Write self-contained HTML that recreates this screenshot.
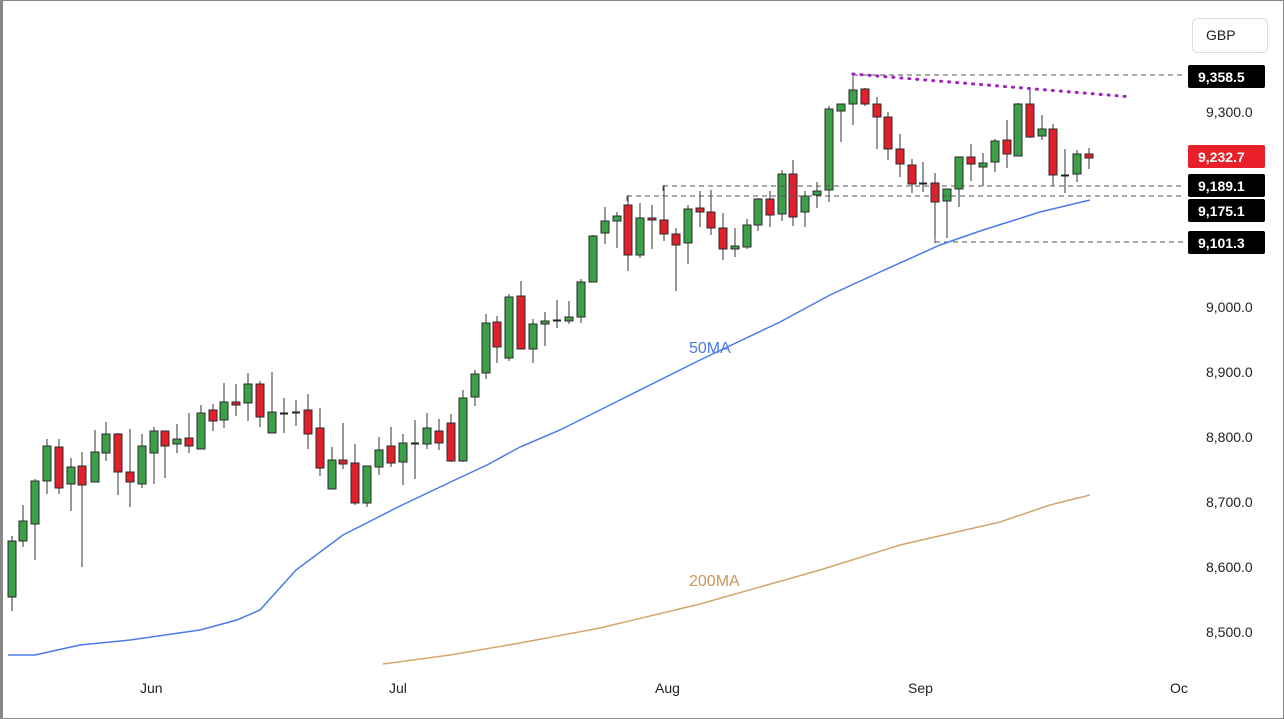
<!DOCTYPE html>
<html><head><meta charset="utf-8"><style>
body{margin:0;background:#fff;}
svg{display:block;font-family:"Liberation Sans",sans-serif;}
</style></head><body>
<svg id="s" width="1284" height="719" viewBox="0 0 1284 719" xmlns="http://www.w3.org/2000/svg">
<rect x="0.5" y="0.5" width="1283" height="718" fill="#fff" stroke="#888"/>
<rect x="0" y="0" width="3" height="719" fill="#888"/>
<g id="c"></g>
<g stroke="#555" stroke-dasharray="5,4" stroke-width="1" fill="none">
<path d="M853 75H1185M853 75V80"/>
<path d="M663 186H1185M663 186V196"/>
<path d="M627 196H1185M627 196V204"/>
<path d="M935 242H1185M935 242V236"/>
</g>
<line x1="853" y1="74" x2="1132" y2="97" stroke="#a020c0" stroke-width="3" stroke-dasharray="1,7" stroke-linecap="round"/>
<polyline fill="none" stroke="#4a7ae8" stroke-width="1.5" points="8,655 35,655 80,645 130,640 200,630 237,620 260,610 296,570 343,535 400,506 457,479 487,465 520,447 560,430 620,400 700,360 780,322 830,295 880,272 940,245 980,231 1040,212 1090,200"/>
<polyline fill="none" stroke="#d2a66e" stroke-width="1.5" points="383,664 450,655 520,643 600,628 700,604 820,570 900,545 1000,522 1050,505 1090,495"/>
<text x="689" y="353" fill="#4a7ae8" font-size="16">50MA</text>
<text x="689" y="586" fill="#c9975a" font-size="16">200MA</text>
<g font-size="14" fill="#222">
<text x="1206" y="117">9,300.0</text>
<text x="1206" y="312">9,000.0</text>
<text x="1206" y="377">8,900.0</text>
<text x="1206" y="442">8,800.0</text>
<text x="1206" y="507">8,700.0</text>
<text x="1206" y="572">8,600.0</text>
<text x="1206" y="637">8,500.0</text>
</g>
<rect x="1192.5" y="18.5" width="75" height="34" rx="5" fill="#fff" stroke="#ddd"/>
<text x="1206" y="40" font-size="14" fill="#222">GBP</text>
<g font-size="14" font-weight="bold" fill="#fff">
<rect x="1188" y="65" width="77" height="23" rx="2" fill="#000"/><text x="1198" y="82">9,358.5</text>
<rect x="1188" y="145" width="77" height="23" rx="2" fill="#e8202a"/><text x="1198" y="162">9,232.7</text>
<rect x="1188" y="174" width="77" height="23" rx="2" fill="#000"/><text x="1198" y="191">9,189.1</text>
<rect x="1188" y="199" width="77" height="23" rx="2" fill="#000"/><text x="1198" y="216">9,175.1</text>
<rect x="1188" y="231" width="77" height="23" rx="2" fill="#000"/><text x="1198" y="248">9,101.3</text>
</g>
<g font-size="14" fill="#222">
<text x="140" y="693">Jun</text>
<text x="389" y="693">Jul</text>
<text x="655" y="693">Aug</text>
<text x="908" y="693">Sep</text>
<text x="1170" y="693">Oc</text>
</g>
</svg>
<script>
var d=[[12,597,541,536,611],[23,541,521,505,547],[35,524,481,479,560],[47,481,446,439,494],[59,447,488,439,494],[71,484,467,458,511],[82,466,485,452,567],[95,482,452,430,482],[106,453,434,422,461],[118,434,472,433,495],[130,472,482,429,507],[142,484,446,434,488],[154,453,431,427,484],[165,431,446,431,478],[177,444,439,424,453],[189,438,446,413,453],[201,449,413,405,449],[213,410,421,404,431],[224,420,402,383,428],[236,402,405,384,416],[248,403,384,373,421],[260,384,417,381,427],[272,433,412,372,433],[284,413,413,398,433],[296,412,412,400,426],[308,410,434,394,449],[320,428,468,408,476],[332,489,460,447,489],[343,460,464,423,469],[355,463,503,444,505],[367,503,466,466,507],[379,467,450,437,475],[391,446,463,427,467],[403,462,443,434,485],[415,443,443,420,479],[427,444,428,413,449],[439,431,443,419,450],[451,423,461,414,462],[463,461,398,390,462],[475,397,374,370,406],[486,373,323,314,379],[497,322,347,316,363],[509,358,297,294,361],[521,296,349,281,349],[533,349,324,319,363],[545,324,321,312,346],[557,320,320,300,328],[569,321,317,301,324],[581,317,282,279,323],[593,282,236,235,282],[605,233,221,207,244],[617,221,216,212,248],[628,205,255,195,271],[640,255,218,203,258],[652,218,220,205,249],[664,220,234,185,241],[676,234,245,228,291],[688,243,209,205,264],[700,208,212,191,227],[711,212,228,190,235],[723,228,249,213,260],[735,249,246,228,257],[747,247,225,219,249],[758,225,199,198,231],[770,199,215,191,227],[782,214,174,170,221],[793,174,217,160,226],[805,212,196,191,227],[817,195,191,182,208],[829,190,109,106,202],[841,111,104,104,142],[853,104,90,73,125],[865,89,104,88,106],[877,104,117,97,149],[888,117,149,112,160],[900,149,164,134,177],[912,165,184,159,193],[923,183,183,162,192],[935,183,202,173,243],[947,201,189,189,238],[959,189,157,157,207],[971,157,164,144,181],[983,167,163,153,186],[995,162,141,139,172],[1007,140,154,120,168],[1018,156,104,103,156],[1030,104,137,88,138],[1042,136,129,115,140],[1053,129,175,124,186],[1065,175,175,149,193],[1077,174,154,150,182],[1089,154,158,148,169]];
var h='';d.forEach(function(c){var x=c[0],o=c[1],cl=c[2];var up=cl<o;var t=Math.min(o,cl),b=Math.max(o,cl);var col=(o==cl)?'#222':(up?'#3ba048':'#e2202b');
h+='<line x1="'+x+'" x2="'+x+'" y1="'+c[3]+'" y2="'+c[4]+'" stroke="#333" stroke-width="1"/>';
if(b-t<2){h+='<rect x="'+(x-4)+'" y="'+(t-0.5)+'" width="8" height="2" fill="'+(o==cl?'#222':col)+'"/>';}
else h+='<rect x="'+(x-4)+'" y="'+t+'" width="8" height="'+(b-t)+'" fill="'+col+'" stroke="#2a2a2a" stroke-width="1"/>';});
document.getElementById('c').innerHTML=h;
</script>
</body></html>
